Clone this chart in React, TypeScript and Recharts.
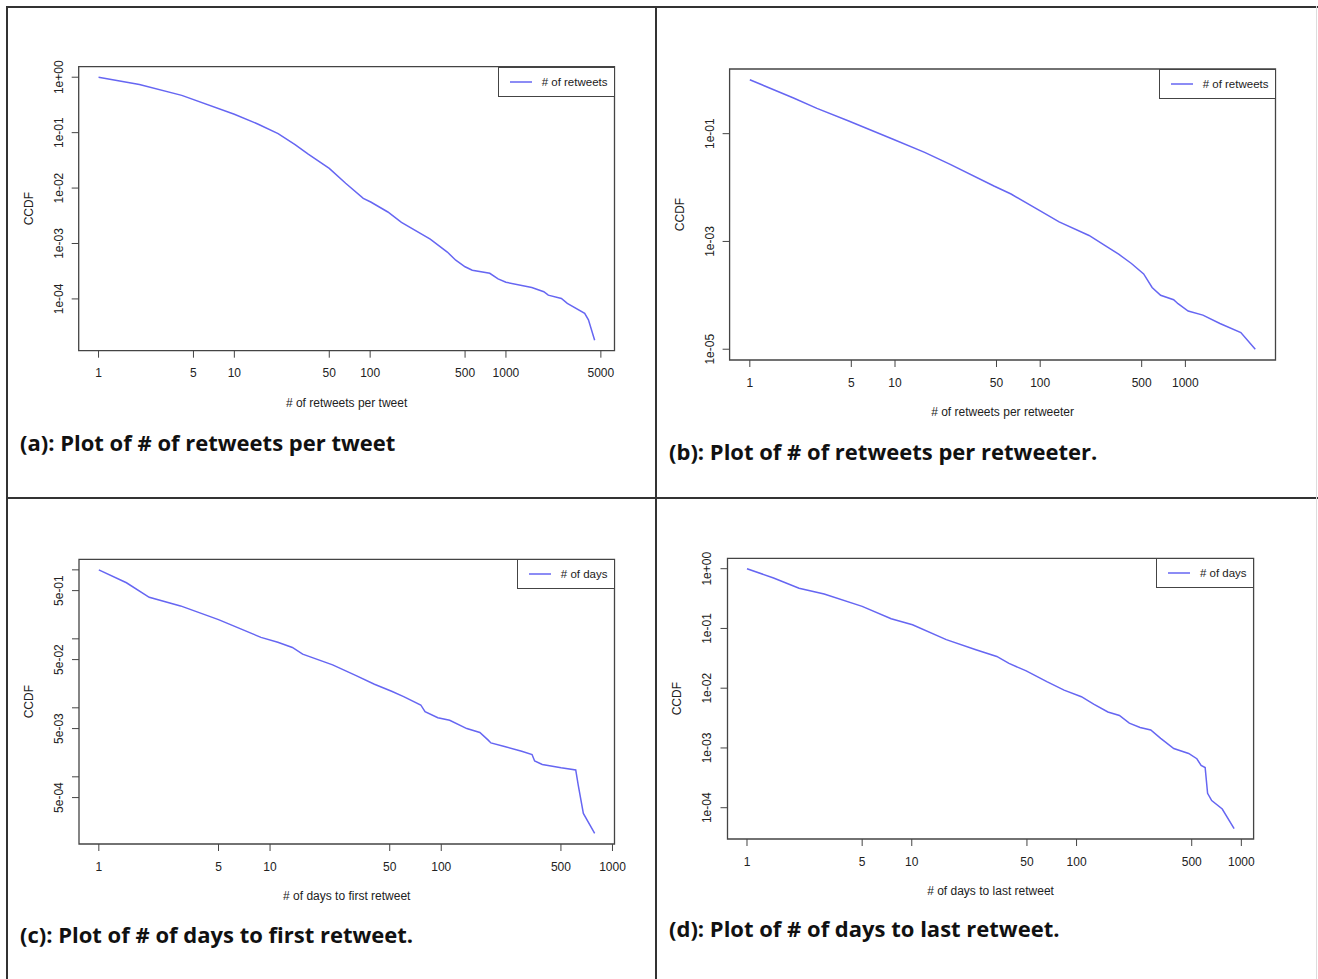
import React from "react";
import { LineChart, Line, XAxis, YAxis, Legend, ReferenceArea } from "recharts";

// (a) retweets per tweet
const tweetRetweets = [1, 2, 4.1, 10, 15, 21, 28, 35, 50, 66, 89, 101, 135, 170, 277, 370, 427, 500, 565, 760, 875, 1000, 1550, 1900, 2050, 2560, 2830, 3800, 4050, 4500];
const tweetCcdf = [1, 0.74, 0.47, 0.215, 0.142, 0.096, 0.061, 0.041, 0.0227, 0.0122, 0.0065, 0.0056, 0.0037, 0.0024, 0.0012, 0.0007, 0.0005, 0.00038, 0.00033, 0.00029, 0.00023, 0.0002, 0.00016, 0.000135, 0.000117, 0.000102, 0.000083, 0.000055, 0.000042, 0.000018];

// (b) retweets per retweeter
const retweeterRetweets = [1, 2, 2.9, 4.8, 9.7, 16, 24, 48, 63, 98, 135, 217, 282, 347, 425, 516, 590, 675, 830, 890, 1045, 1320, 1730, 2410, 3030];
const retweeterCcdf = [1, 0.46, 0.295, 0.172, 0.079, 0.045, 0.027, 0.0107, 0.0076, 0.0038, 0.0023, 0.00129, 0.00083, 0.00058, 0.00039, 0.00025, 0.00014, 0.0001, 0.000083, 0.00007, 0.000051, 0.000043, 0.00003, 0.0000204, 0.00001];

// (c) days to first retweet
const firstDays = [1, 1.45, 1.97, 3.0, 5.0, 8.85, 11.1, 13.5, 15.5, 23.2, 31.6, 40.7, 51.3, 60.3, 75.9, 80.4, 95.5, 112, 141, 168, 188, 195, 234, 295, 339, 351, 389, 501, 610, 631, 676, 787];
const firstCcdf = [1, 0.65, 0.4, 0.3, 0.19, 0.105, 0.089, 0.075, 0.06, 0.042, 0.0295, 0.022, 0.0174, 0.0145, 0.011, 0.0088, 0.0072, 0.0066, 0.005, 0.0044, 0.0034, 0.0031, 0.00275, 0.00234, 0.0021, 0.0017, 0.00151, 0.00135, 0.00126, 0.00076, 0.000295, 0.000151];

// (d) days to last retweet
const lastDays = [1, 1.45, 2.07, 2.94, 5.0, 7.5, 10.1, 16.2, 24.5, 32.8, 38.9, 49.5, 66, 84, 107, 127, 155, 182, 209, 243, 282, 324, 389, 479, 537, 570, 603, 624, 661, 766, 904];
const lastCcdf = [1, 0.7, 0.47, 0.376, 0.234, 0.145, 0.115, 0.065, 0.044, 0.034, 0.026, 0.0195, 0.0129, 0.0093, 0.0072, 0.0054, 0.004, 0.0035, 0.0026, 0.0022, 0.002, 0.00145, 0.00098, 0.00081, 0.00066, 0.00051, 0.00047, 0.000174, 0.000132, 0.000095, 0.0000447];

// axis ticks
const xTicksTweet = [1, 5, 10, 50, 100, 500, 1000, 5000];
const xTicksStd = [1, 5, 10, 50, 100, 500, 1000];
const yTicksDecades = [1, 0.1, 0.01, 0.001, 0.0001];
const yLabelsDecades = ["1e+00", "1e-01", "1e-02", "1e-03", "1e-04"];
const yTicksOdd = [0.1, 0.001, 0.00001];
const yLabelsOdd = ["1e-01", "1e-03", "1e-05"];
const yTicksHalf = [1, 0.5, 0.1, 0.05, 0.01, 0.005, 0.001, 0.0005];
const yLabelsHalf = ["", "5e-01", "", "5e-02", "", "5e-03", "", "5e-04"];

const LINE = "#6666f2";
const AXIS = "#444";
const TEXT = "#222";
const FONT = "'Liberation Sans', Arial, sans-serif";
const FONT_SIZE = 12;
const Y_AXIS_W = 60;
const X_AXIS_H = 60;

// R style: log range padded by 4% each side
function logDomain(values: number[]): [number, number] {
  const lo = Math.log10(Math.min(...values));
  const hi = Math.log10(Math.max(...values));
  const pad = (hi - lo) * 0.04;
  return [10 ** (lo - pad), 10 ** (hi + pad)];
}

type Box = { left: number; top: number; right: number; bottom: number };
type Frame = { x: number; y: number; w: number; h: number };

interface PanelProps {
  frame: Frame;
  box: Box;
  xs: number[];
  ys: number[];
  xTicks: number[];
  yTicks: number[];
  yLabels: string[];
  seriesName: string;
  xTitle: string;
}

function LegendBox({ payload }: any) {
  const item = payload?.[0];
  return (
    <div
      style={{
        border: `1px solid ${AXIS}`,
        height: 30,
        boxSizing: "border-box",
        display: "flex",
        alignItems: "center",
        padding: "0 6px 0 11px",
        background: "#fff",
        fontFamily: FONT,
        fontSize: 11.5,
        color: TEXT,
        whiteSpace: "nowrap",
      }}
    >
      <svg width={22} height={4} style={{ marginRight: 10 }}>
        <line x1={0} x2={22} y1={2} y2={2} stroke={item?.color} strokeWidth={1.5} />
      </svg>
      <span>{item?.value}</span>
    </div>
  );
}

function CcdfPanel({ frame, box, xs, ys, xTicks, yTicks, yLabels, seriesName, xTitle }: PanelProps) {
  const data = xs.map((x, i) => ({ x, y: ys[i] }));
  const xDomain = logDomain(xs);
  const yDomain = logDomain(ys);
  const margin = {
    left: box.left - frame.x - Y_AXIS_W,
    top: box.top - frame.y,
    right: frame.x + frame.w - box.right,
    bottom: frame.y + frame.h - box.bottom - X_AXIS_H,
  };

  const yTick = (props: any) => {
    const { x, y, payload } = props;
    const label = yLabels[yTicks.indexOf(payload.value)];
    return (
      <text
        x={x}
        y={y}
        transform={`rotate(-90, ${x}, ${y})`}
        textAnchor="middle"
        dominantBaseline="central"
        fontSize={FONT_SIZE}
        fontFamily={FONT}
        fill={TEXT}
      >
        {label}
      </text>
    );
  };

  const xLabel = (props: any) => {
    const vb = props.viewBox;
    return (
      <text
        x={vb.x + vb.width / 2}
        y={vb.y + 52}
        textAnchor="middle"
        dominantBaseline="central"
        fontSize={FONT_SIZE}
        fontFamily={FONT}
        fill={TEXT}
      >
        {xTitle}
      </text>
    );
  };

  const yLabel = (props: any) => {
    const vb = props.viewBox;
    const cx = vb.x + vb.width - 50;
    const cy = vb.y + vb.height / 2;
    return (
      <text
        x={cx}
        y={cy}
        transform={`rotate(-90, ${cx}, ${cy})`}
        textAnchor="middle"
        dominantBaseline="central"
        fontSize={FONT_SIZE}
        fontFamily={FONT}
        fill={TEXT}
      >
        CCDF
      </text>
    );
  };

  return (
    <div style={{ position: "absolute", left: frame.x, top: frame.y }}>
      <LineChart width={frame.w} height={frame.h} data={data} margin={margin}>
        <XAxis
          dataKey="x"
          type="number"
          scale="log"
          domain={xDomain}
          allowDataOverflow
          ticks={xTicks}
          interval={0}
          axisLine={false}
          tickLine={{ stroke: AXIS }}
          tickSize={7}
          tickMargin={11}
          height={X_AXIS_H}
          tick={{ fontSize: FONT_SIZE, fill: TEXT, fontFamily: FONT }}
          label={xLabel}
        />
        <YAxis
          type="number"
          scale="log"
          domain={yDomain}
          allowDataOverflow
          ticks={yTicks}
          interval={0}
          axisLine={false}
          tickLine={{ stroke: AXIS }}
          tickSize={7}
          tickMargin={13}
          width={Y_AXIS_W}
          tick={yTick}
          label={yLabel}
        />
        <ReferenceArea
          x1={xDomain[0]}
          x2={xDomain[1]}
          y1={yDomain[0]}
          y2={yDomain[1]}
          fill="none"
          stroke={AXIS}
          strokeWidth={1.3}
          ifOverflow="visible"
        />
        <Line
          type="linear"
          dataKey="y"
          name={seriesName}
          stroke={LINE}
          strokeWidth={1.5}
          dot={false}
          activeDot={false}
          isAnimationActive={false}
        />
        <Legend
          layout="horizontal"
          align="center"
          verticalAlign="middle"
          content={(p: any) => <LegendBox {...p} />}
          wrapperStyle={{
            top: box.top - frame.y,
            right: frame.x + frame.w - box.right,
            left: "auto",
            width: "auto",
            height: 30,
          }}
        />
      </LineChart>
    </div>
  );
}

function Caption({ left, centerY, text }: { left: number; centerY: number; text: string }) {
  return (
    <div
      style={{
        position: "absolute",
        left,
        top: centerY - 14,
        height: 28,
        lineHeight: "28px",
        fontFamily: "'Open Sans', Lato, sans-serif",
        fontWeight: 700,
        fontSize: 22,
        color: "#111",
        whiteSpace: "nowrap",
      }}
    >
      {text}
    </div>
  );
}

const rule = (left: number, top: number, width: number, height: number, color = "#333") => (
  <div style={{ position: "absolute", left, top, width, height, background: color }} />
);

export default function App() {
  return (
    <div style={{ position: "absolute", left: 0, top: 0, width: 1318, height: 979, background: "#fff", overflow: "hidden" }}>
      {rule(6, 6, 1312, 2)}
      {rule(6, 6, 2, 973)}
      {rule(655, 6, 2, 973)}
      {rule(6, 497, 1312, 2)}
      {rule(1316, 6, 1, 973, "#ddd")}

      <CcdfPanel
        frame={{ x: 10, y: 30, w: 640, h: 400 }}
        box={{ left: 78.7, top: 66.7, right: 614.5, bottom: 350.7 }}
        xs={tweetRetweets}
        ys={tweetCcdf}
        xTicks={xTicksTweet}
        yTicks={yTicksDecades}
        yLabels={yLabelsDecades}
        seriesName="# of retweets"
        xTitle="# of retweets per tweet"
      />
      <CcdfPanel
        frame={{ x: 660, y: 30, w: 650, h: 420 }}
        box={{ left: 729.6, top: 69, right: 1275.5, bottom: 360 }}
        xs={retweeterRetweets}
        ys={retweeterCcdf}
        xTicks={xTicksStd}
        yTicks={yTicksOdd}
        yLabels={yLabelsOdd}
        seriesName="# of retweets"
        xTitle="# of retweets per retweeter"
      />
      <CcdfPanel
        frame={{ x: 10, y: 520, w: 640, h: 400 }}
        box={{ left: 79, top: 559.3, right: 614.5, bottom: 844 }}
        xs={firstDays}
        ys={firstCcdf}
        xTicks={xTicksStd}
        yTicks={yTicksHalf}
        yLabels={yLabelsHalf}
        seriesName="# of days"
        xTitle="# of days to first retweet"
      />
      <CcdfPanel
        frame={{ x: 660, y: 520, w: 640, h: 400 }}
        box={{ left: 727.5, top: 558.3, right: 1253.6, bottom: 839 }}
        xs={lastDays}
        ys={lastCcdf}
        xTicks={xTicksStd}
        yTicks={yTicksDecades}
        yLabels={yLabelsDecades}
        seriesName="# of days"
        xTitle="# of days to last retweet"
      />

      <Caption left={20} centerY={442} text="(a): Plot of # of retweets per tweet" />
      <Caption left={669} centerY={451} text="(b): Plot of # of retweets per retweeter." />
      <Caption left={20} centerY={934} text="(c): Plot of # of days to first retweet." />
      <Caption left={669} centerY={928} text="(d): Plot of # of days to last retweet." />
    </div>
  );
}
